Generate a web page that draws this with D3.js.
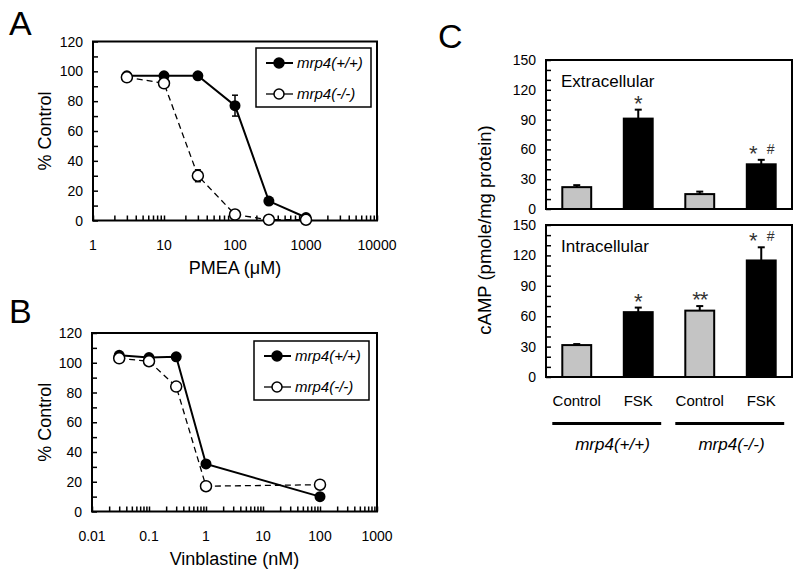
<!DOCTYPE html>
<html><head><meta charset="utf-8">
<script src="https://cdn.jsdelivr.net/npm/d3@7"></script>
<style>body{margin:0;background:#fff}svg{display:block;font-family:"Liberation Sans",Arial,sans-serif}</style>
</head><body><svg id="c" width="800" height="582"></svg>
<script>
// ---- Data ----
const pmeaDose = [3, 10, 30, 100, 300, 1000];
const pmeaWT = [97, 97, 97, 77, 13, 2];
const pmeaWTerr = [0, 0, 0, 7, 0, 0];
const pmeaKO = [96, 92, 30, 4, 0.5, 0.5];
const pmeaKOerr = [0, 0, 4, 0, 0, 0];
const pmeaTicks = [1, 10, 100, 1000, 10000];

const vinDose = [0.03, 0.1, 0.3, 1, 100];
const vinWT = [105, 103.5, 104, 32, 10];
const vinKO = [103, 101, 84, 17, 18];
const vinTicks = [0.01, 0.1, 1, 10, 100, 1000];

const pctTicks = [0, 20, 40, 60, 80, 100, 120];
const seriesNames = ["mrp4(+/+)", "mrp4(-/-)"];

const cCategories = ["Control", "FSK", "Control ", "FSK "];
const cGroups = ["mrp4(+/+)", "mrp4(-/-)"];
const cTreatment = ["control", "fsk", "control", "fsk"];
const extraVals = [22, 91, 15, 45];
const extraErr = [2, 9, 2.5, 4.5];
const extraMarks = ["", "*", "", "*#"];
const intraVals = [31.5, 64, 65.5, 115];
const intraErr = [1, 4.5, 4.5, 13];
const intraMarks = ["", "*", "**", "*#"];
const cTicks = [0, 30, 60, 90, 120, 150];

const svg = d3.select("#c");
const FONT = "14px";

function text(g, x, y, s, opts = {}) {
  const t = g.append("text").attr("x", x).attr("y", y).text(s)
    .attr("font-size", opts.size || FONT).attr("fill", "#000")
    .attr("text-anchor", opts.anchor || "start");
  if (opts.italic) t.attr("font-style", "italic");
  if (opts.rotate) t.attr("transform", `rotate(-90,${x},${y})`);
  return t;
}

function logPanel(cfg) {
  const g = svg.append("g");
  const x = d3.scaleLog().domain(cfg.xdom).range(cfg.xr);
  const y = d3.scaleLinear().domain([0, 120]).range(cfg.yr);
  const yAxis = d3.axisRight(y).tickValues(d3.range(0, 121, 10)).tickSize(5).tickFormat("");
  const ya = g.append("g").attr("transform", `translate(${cfg.xr[0]},0)`).call(yAxis);
  ya.select(".domain").remove();
  ya.selectAll("line").attr("stroke-width", 1.5);
  const minor = [];
  const d0 = Math.round(Math.log10(cfg.xdom[0])), d1 = Math.round(Math.log10(cfg.xdom[1]));
  for (let d = d0; d < d1; d++) for (let k = 1; k <= 9; k++) minor.push(k * Math.pow(10, d));
  minor.push(cfg.xdom[1]);
  const xAxis = d3.axisTop(x).tickValues(minor).tickSize(5).tickFormat("");
  const xa = g.append("g").attr("transform", `translate(0,${cfg.yr[0]})`).call(xAxis);
  xa.select(".domain").remove();
  xa.selectAll("line").attr("stroke-width", 1.5);
  g.append("rect").attr("x", cfg.xr[0]).attr("y", cfg.yr[1])
    .attr("width", cfg.xr[1] - cfg.xr[0]).attr("height", cfg.yr[0] - cfg.yr[1])
    .attr("fill", "none").attr("stroke", "#000").attr("stroke-width", 2);
  pctTicks.forEach(v => text(g, cfg.xr[0] - 10, y(v) + 5, v, { anchor: "end" }));
  cfg.xticks.forEach(v => text(g, x(v), cfg.yr[0] + 29, String(v), { anchor: "middle" }));
  text(g, 51, (cfg.yr[0] + cfg.yr[1]) / 2, "% Control", { anchor: "middle", size: "18px", rotate: true });
  text(g, (cfg.xr[0] + cfg.xr[1]) / 2, cfg.yr[0] + 53, cfg.xlabel, { anchor: "middle", size: "18px" });
  text(g, 9, cfg.letterY, cfg.letter, { size: "34px" });
  const line = d3.line().x(d => x(d[0])).y(d => y(d[1]));
  const ko = cfg.dose.map((d, i) => [d, cfg.ko[i]]);
  const wt = cfg.dose.map((d, i) => [d, cfg.wt[i]]);
  g.append("path").attr("d", line(ko)).attr("fill", "none").attr("stroke", "#000")
    .attr("stroke-width", 1.3).attr("stroke-dasharray", "6,4");
  g.append("path").attr("d", line(wt)).attr("fill", "none").attr("stroke", "#000").attr("stroke-width", 2);
  function errs(vals, errv) {
    cfg.dose.forEach((d, i) => {
      const e = errv ? errv[i] : 0;
      if (!e) return;
      g.append("line").attr("x1", x(d)).attr("x2", x(d)).attr("y1", y(vals[i] - e)).attr("y2", y(vals[i] + e))
        .attr("stroke", "#000").attr("stroke-width", 1.5);
      [vals[i] - e, vals[i] + e].forEach(v => g.append("line").attr("x1", x(d) - 3).attr("x2", x(d) + 3)
        .attr("y1", y(v)).attr("y2", y(v)).attr("stroke", "#000").attr("stroke-width", 1.5));
    });
  }
  errs(cfg.wt, cfg.wtErr); errs(cfg.ko, cfg.koErr);
  g.selectAll(".wt").data(wt).join("circle").attr("cx", d => x(d[0])).attr("cy", d => y(d[1]))
    .attr("r", 5.5).attr("fill", "#000");
  g.selectAll(".ko").data(ko).join("circle").attr("cx", d => x(d[0])).attr("cy", d => y(d[1]))
    .attr("r", 5.5).attr("fill", "#fff").attr("stroke", "#000").attr("stroke-width", 1.5);
  const L = cfg.legend;
  g.append("rect").attr("x", L.x).attr("y", L.y).attr("width", L.w).attr("height", L.h)
    .attr("fill", "#fff").attr("stroke", "#000").attr("stroke-width", 1.5);
  seriesNames.forEach((nm, i) => {
    const yy = L.y + 15 + i * 31;
    g.append("line").attr("x1", L.x + 10).attr("x2", L.x + 37).attr("y1", yy).attr("y2", yy)
      .attr("stroke", "#000").attr("stroke-width", i ? 1.3 : 2);
    g.append("circle").attr("cx", L.x + 23).attr("cy", yy).attr("r", 5)
      .attr("fill", i ? "#fff" : "#000").attr("stroke", "#000").attr("stroke-width", 1.5);
    text(g, L.x + 41, yy + 5, nm, { italic: true, size: "15px" });
  });
}

logPanel({ xdom: [1, 10000], xr: [93, 377], yr: [220.5, 41.5], dose: pmeaDose, wt: pmeaWT, ko: pmeaKO,
  wtErr: pmeaWTerr, koErr: pmeaKOerr, xticks: pmeaTicks, xlabel: "PMEA (\u03bcM)", letter: "A", letterY: 35,
  legend: { x: 256, y: 48, w: 115, h: 59 } });
logPanel({ xdom: [0.01, 1000], xr: [92, 377], yr: [511.5, 333], dose: vinDose, wt: vinWT, ko: vinKO,
  xticks: vinTicks, xlabel: "Vinblastine (nM)", letter: "B", letterY: 323,
  legend: { x: 254, y: 341, w: 115, h: 59 } });

// ---- Panel C ----
const gc = svg.append("g");
const xb = d3.scaleBand().domain(cCategories).range([546, 792]).paddingInner(0.53).paddingOuter(0.265);
function barPanel(vals, errs, marks, yr, label) {
  const y = d3.scaleLinear().domain([0, 150]).range(yr);
  const ya = gc.append("g").attr("transform", `translate(546,0)`)
    .call(d3.axisRight(y).tickValues(d3.range(0, 151, 10)).tickSize(5).tickFormat(""));
  ya.select(".domain").remove();
  ya.selectAll("line").attr("stroke-width", 1.5);
  gc.append("rect").attr("x", 546).attr("y", yr[1]).attr("width", 246).attr("height", yr[0] - yr[1])
    .attr("fill", "none").attr("stroke", "#000").attr("stroke-width", 2);
  cTicks.forEach(v => text(gc, 536, y(v) + 5, v, { anchor: "end" }));
  text(gc, 561, y(150) + 27, label, { size: "17px" });
  cCategories.forEach((c, i) => {
    const cx = xb(c) + xb.bandwidth() / 2;
    gc.append("line").attr("x1", cx).attr("x2", cx).attr("y1", y(vals[i])).attr("y2", y(vals[i] + errs[i]))
      .attr("stroke", "#000").attr("stroke-width", 2);
    gc.append("line").attr("x1", cx - 3.5).attr("x2", cx + 3.5).attr("y1", y(vals[i] + errs[i])).attr("y2", y(vals[i] + errs[i]))
      .attr("stroke", "#000").attr("stroke-width", 2);
    gc.append("rect").attr("x", xb(c)).attr("y", y(vals[i])).attr("width", xb.bandwidth())
      .attr("height", y(0) - y(vals[i]))
      .attr("fill", cTreatment[i] === "fsk" ? "#000" : "#c4c4c4").attr("stroke", "#000").attr("stroke-width", 2);
    const ty = y(vals[i] + errs[i]) - 11;
    const m = marks[i];
    if (m === "*") text(gc, cx, ty + 12, "*", { anchor: "middle", size: "22px" }).attr("fill", "#333");
    if (m === "**") text(gc, cx, ty + 12, "**", { anchor: "middle", size: "22px" }).attr("fill", "#333").attr("letter-spacing", "-1px");
    if (m === "*#") {
      text(gc, cx - 8, ty + 12, "*", { anchor: "middle", size: "22px" }).attr("fill", "#333");
      text(gc, cx + 9.5, ty + 5, "#", { anchor: "middle", size: "14px" }).attr("fill", "#333");
    }
  });
}
barPanel(extraVals, extraErr, extraMarks, [209, 60], "Extracellular");
barPanel(intraVals, intraErr, intraMarks, [377, 225], "Intracellular");
cCategories.forEach(c => text(gc, xb(c) + xb.bandwidth() / 2, 406, c.trim(), { anchor: "middle", size: "15px" }));
const groupLabelShift = [5, 1];
cGroups.forEach((gname, i) => {
  const a = xb(cCategories[i * 2]), b = xb(cCategories[i * 2 + 1]) + xb.bandwidth();
  gc.append("line").attr("x1", a - 10).attr("x2", b + 8.5).attr("y1", 423.5).attr("y2", 423.5)
    .attr("stroke", "#000").attr("stroke-width", 3);
  text(gc, (a + b) / 2 + groupLabelShift[i], 450, gname, { anchor: "middle", size: "17px", italic: true });
});
text(gc, 491, 230, "cAMP (pmole/mg protein)", { anchor: "middle", size: "18.5px", rotate: true });
text(gc, 438, 48, "C", { size: "34px" });
</script></body></html>
